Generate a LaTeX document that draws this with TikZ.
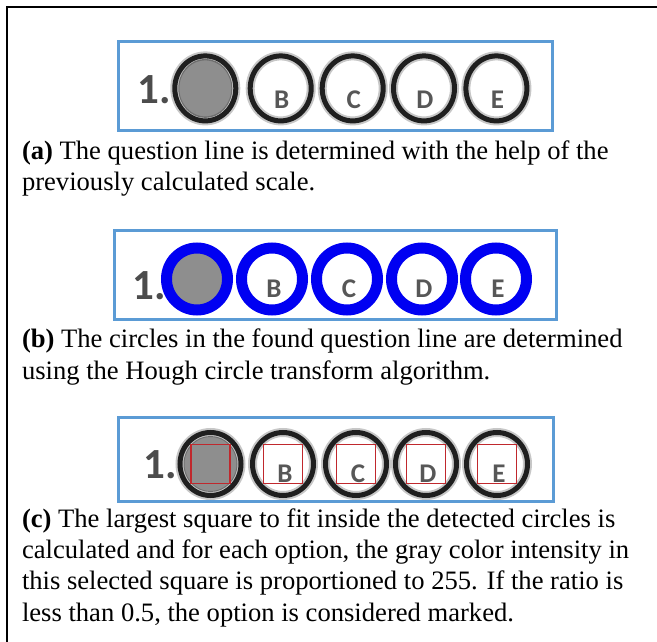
\documentclass[tikz,border=0pt]{standalone}
\usepackage{fontspec}
\setmainfont{Liberation Serif}
\newfontfamily\optfont{Carlito}
\definecolor{boxblue}{HTML}{5B9BD5}
\definecolor{ringblue}{HTML}{0000F2}
\definecolor{sqred}{HTML}{C0282D}
\definecolor{markgray}{HTML}{8E8E8E}
\tikzset{
  panel/.style={draw=boxblue, line width=3pt},
  ringhalo/.style={draw=black, line width=9pt, opacity=0.22},
  ring/.style={draw=black!88, line width=5pt},
  bluering/.style={draw=ringblue, line width=11pt},
  fitsq/.style={draw=sqred, line width=1.3pt},
  optletter/.style={font=\optfont\bfseries\fontsize{27}{27}\selectfont, text=black!66, inner sep=0pt},
  qnum/.style={font=\optfont\bfseries\fontsize{43}{43}\selectfont, text=black!70, inner sep=0pt, anchor=base west},
  caption/.style={font=\fontsize{26.6}{31.4}\selectfont, align=left, anchor=base west, inner sep=0pt},
  frame/.style={draw=black, line width=1.6pt}
}
\begin{document}
\begin{tikzpicture}[x=1pt,y=-1pt]
\useasboundingbox (0,0) rectangle (657,642);
\clip (0,0) rectangle (657,642);
\fill[white] (0,0) rectangle (657,642);
\draw[frame] (7,7) rectangle (720,720);

% ---------- panel (a)
\draw[panel] (118.6,42) rectangle (552,130.7);
\node[qnum] (qa) at (137,104) {1.};
\fill[markgray] (205.3,88.4) ellipse [x radius=27pt, y radius=29.5pt];
\foreach \x/\l [count=\i] in {205.3/{}, 280.7/B, 352.7/C, 424/D, 496.4/E}{
  \draw[ringhalo] (\x,88.4) ellipse [x radius=30.5pt, y radius=32.5pt];
  \draw[ring] (\x,88.4) ellipse [x radius=30.5pt, y radius=32.5pt];
  \node[optletter] (a\i) at (\x+1,100) {\l};
}
% base anchor of a multi-line node = baseline of its last line
\node[caption] (capa) at (21.8,190.6) {\textbf{(a)} The question line is determined with the help of the\\previously calculated scale.};

% ---------- panel (b)
\draw[panel] (114.4,230) rectangle (556,319);
\node[qnum] (qb) at (132,299.5) {1.};
\fill[markgray] (197,279) ellipse [x radius=27pt, y radius=29pt];
\foreach \x/\l [count=\i] in {197/{}, 272/B, 347/C, 422/D, 496/E}{
  \draw[bluering] (\x,279) ellipse [x radius=30.5pt, y radius=31pt];
  \node[optletter] (b\i) at (\x+2,289) {\l};
}
\node[caption] (capb) at (21.8,379) {\textbf{(b)} The circles in the found question line are determined\\using the Hough circle transform algorithm.};

% ---------- panel (c)
\draw[panel] (118.6,417.7) rectangle (553.8,501.9);
\node[qnum] (qc) at (143.5,478) {1.};
\fill[markgray] (210.5,464) ellipse [x radius=27pt, y radius=28pt];
\foreach \x/\l [count=\i] in {210.5/{}, 283/B, 356/C, 426/D, 497/E}{
  \draw[ringhalo] (\x,464) ellipse [x radius=30.5pt, y radius=31.5pt];
  \draw[ring] (\x,464) ellipse [x radius=30.5pt, y radius=31.5pt];
  \node[optletter] (c\i) at (\x+2,473.4) {\l};
  \draw[fitsq] (\x-19.5,444.5) rectangle (\x+19.5,483.5);
}
\node[caption] (capc) at (21.8,621.3) {\textbf{(c)} The largest square to fit inside the detected circles is\\calculated and for each option, the gray color intensity in\\this selected square is proportioned to 255. If the ratio is\\less than 0.5, the option is considered marked.};
\end{tikzpicture}
\end{document}
